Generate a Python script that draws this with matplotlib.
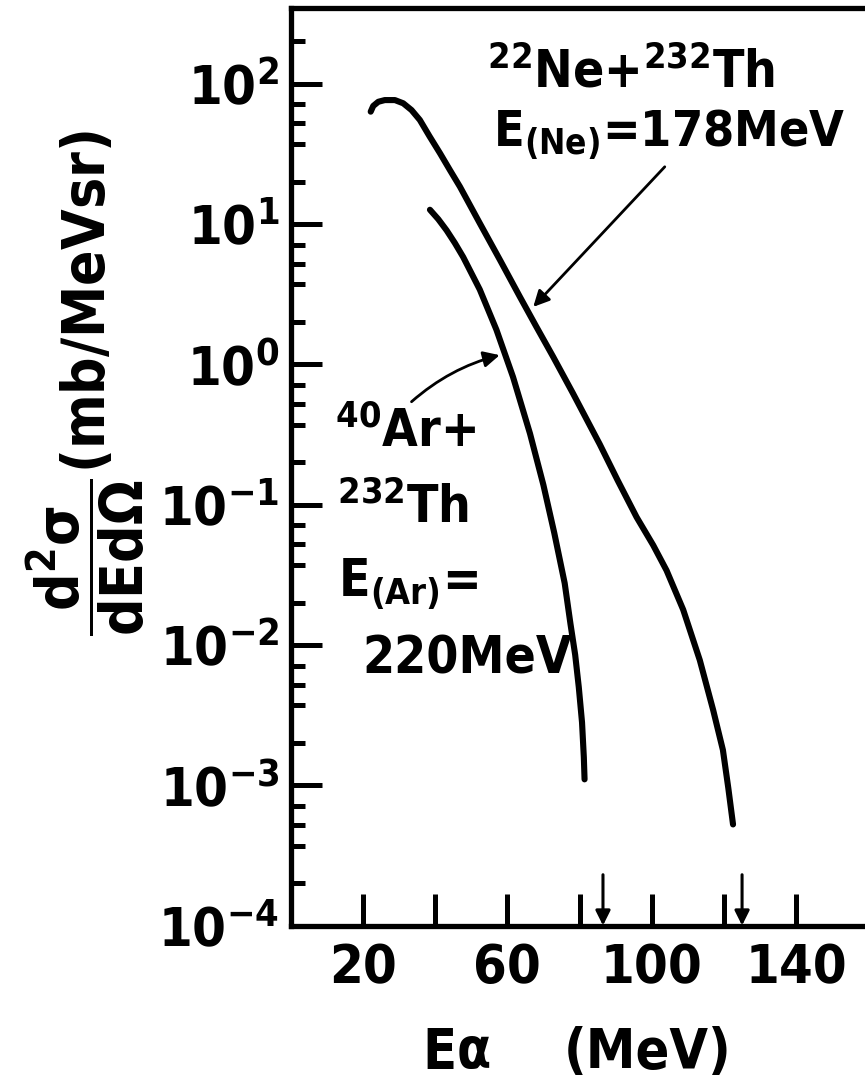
import numpy as np
import matplotlib
matplotlib.use("Agg")
import matplotlib.pyplot as plt
from matplotlib.ticker import FixedLocator, LogFormatterMathtext, NullFormatter

plt.rcParams['font.family'] = ['DejaVu Sans']
plt.rcParams['font.stretch'] = 'condensed'
plt.rcParams['font.weight'] = 'bold'
plt.rcParams['mathtext.fontset'] = 'dejavusans'

# alpha energy spectra (MeV, mb/MeV sr)
ne_energy = [22.2, 22.9, 24.3, 26.1, 28.9, 31.2, 33.5, 35.8, 38.5, 41.4, 44.2,
             46.9, 52.4, 58.0, 63.5, 68.0, 72.7, 78.2, 85.6, 90.6, 95.8, 100.4,
             104.1, 108.7, 113.3, 117.0, 119.7, 121.2, 122.5]
ne_xsec = [63.0, 69.2, 74.1, 76.2, 76.2, 72.3, 64.7, 55.0, 42.0, 31.8, 24.0,
           18.4, 10.1, 5.52, 3.02, 1.86, 1.13, 0.619, 0.269, 0.148, 0.0813,
           0.0513, 0.0339, 0.0178, 0.00778, 0.00343, 0.00178, 0.00095, 0.000525]

ar_energy = [38.6, 40.9, 43.2, 45.5, 47.8, 52.4, 57.0, 61.6, 66.3, 70.0, 73.0,
             75.9, 77.5, 78.8, 79.8, 80.7, 81.2, 81.4]
ar_xsec = [12.6, 10.8, 9.0, 7.3, 5.8, 3.4, 1.76, 0.81, 0.32, 0.138, 0.063,
           0.0275, 0.0141, 0.0085, 0.0050, 0.0028, 0.00158, 0.0011]

# kinematic limits marked on the energy axis
limit_energy = [86.5, 125.0]

x_ticks = [20, 40, 60, 80, 100, 120, 140]
x_tick_labels = ['20', '', '60', '', '100', '', '140']
decades = [-4, -3, -2, -1, 0, 1, 2]
minor_steps = [2, 3.7, 5.2, 7.1]

W, H = 865, 1082


def px(x, y):
    """pixel position -> figure fraction"""
    return x / W, 1 - y / H


fig = plt.figure(figsize=(W / 100, H / 100), dpi=100)
ax = fig.add_axes([290.5 / W, 1 - 925.5 / H, (868.5 - 290.5) / W, (925.5 - 8.3) / H])

for xs, ys in [(ne_energy, ne_xsec), (ar_energy, ar_xsec)]:
    ax.plot(xs, ys, color='black', lw=4.4, solid_capstyle='round',
            solid_joinstyle='round')

ax.set_yscale('log')
ax.set_xlim(0, 160)
ax.set_ylim(1e-4, 10 ** 2.536)

ax.yaxis.set_major_locator(FixedLocator([10.0 ** d for d in decades]))
ax.yaxis.set_major_formatter(LogFormatterMathtext())
minor = [m * 10.0 ** d for d in decades for m in minor_steps]
ax.yaxis.set_minor_locator(FixedLocator(minor))
ax.yaxis.set_minor_formatter(NullFormatter())

ax.set_xticks(x_ticks)
ax.set_xticklabels(x_tick_labels)

ax.tick_params(axis='y', which='major', direction='in', length=22, width=3.6,
               pad=8, labelsize=39)
ax.tick_params(axis='y', which='minor', direction='in', length=10, width=3.6)
ax.tick_params(axis='x', which='major', direction='in', length=23, width=3.6,
               pad=12, labelsize=39)
ax.tick_params(top=False, right=False, which='both')

for side in ['left', 'top', 'bottom']:
    ax.spines[side].set_linewidth(3.8)
ax.spines['right'].set_visible(False)

# limit arrows on the energy axis
for e in limit_energy:
    ax.annotate('', xy=(e, 1e-4), xytext=(e, 2.3e-4),
                arrowprops=dict(arrowstyle='-|>', color='black', lw=2.2,
                                mutation_scale=22, shrinkA=0, shrinkB=0))

# reaction labels
fig.text(*px(487, 88), r'$\mathdefault{{}^{22}Ne}$+$\mathdefault{{}^{232}Th}$',
         fontsize=37, ha='left', va='baseline')
fig.text(*px(493, 147), r'$\mathdefault{E_{(Ne)}}$=178MeV',
         fontsize=36, ha='left', va='baseline')
ax.annotate('', xy=(67.2, 2.56), xytext=(103.6, 25.5),
            arrowprops=dict(arrowstyle='-|>', color='black', lw=2.0,
                            mutation_scale=24, shrinkA=0, shrinkB=0))

fig.text(*px(335, 447), r'$\mathdefault{{}^{40}Ar}$+', fontsize=37,
         ha='left', va='baseline')
fig.text(*px(337, 523), r'$\mathdefault{{}^{232}Th}$', fontsize=37,
         ha='left', va='baseline')
fig.text(*px(338, 597), r'$\mathdefault{E_{(Ar)}}$=', fontsize=37,
         ha='left', va='baseline')
fig.text(*px(362, 673), '220MeV', fontsize=37, ha='left', va='baseline')
ax.annotate('', xy=(57.9, 1.16), xytext=(33.5, 0.54),
            arrowprops=dict(arrowstyle='-|>', color='black', lw=2.0,
                            mutation_scale=24, shrinkA=0, shrinkB=0,
                            connectionstyle='arc3,rad=-0.12'))

# axis titles
fig.text(*px(422, 1068), r'$\mathdefault{E\alpha}$', fontsize=40, ha='left',
         va='baseline')
fig.text(*px(564, 1068), '(MeV)', fontsize=40, ha='left', va='baseline')
fig.text(*px(86, 383),
         r'$\dfrac{\mathdefault{d^2\sigma}}{\mathdefault{dEd\Omega}}\mathdefault{(mb/MeVsr)}$',
         fontsize=42, rotation=90, ha='center', va='center')

fig.savefig('out.png', dpi=100)
